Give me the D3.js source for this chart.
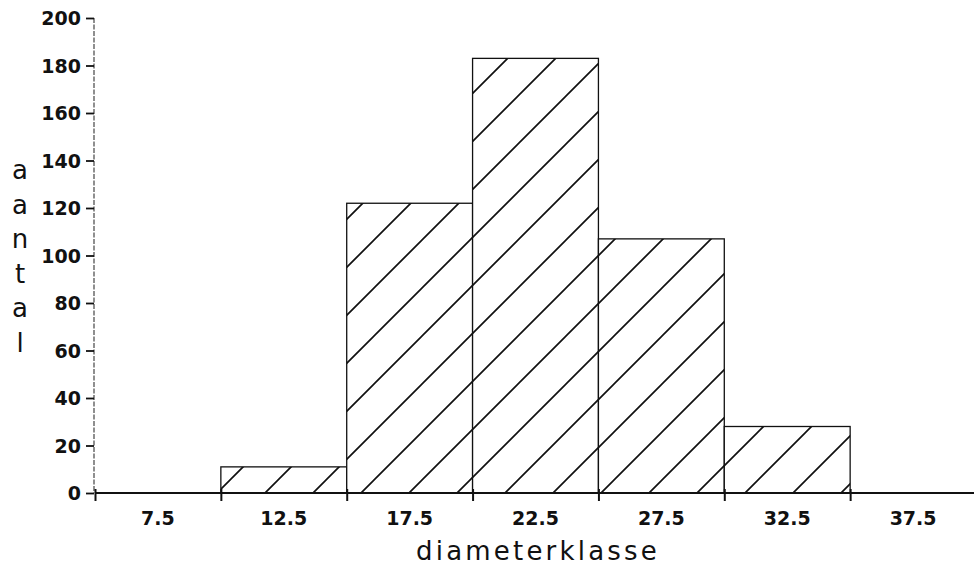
<!DOCTYPE html>
<html>
<head>
<meta charset="utf-8">
<script src="https://cdn.jsdelivr.net/npm/d3@7"></script>
<style>
  html, body { margin: 0; padding: 0; background: #fff; }
  svg { display: block; }
</style>
</head>
<body>
<svg id="chart" width="974" height="570"></svg>
<script>
// ---- data ----
const categories = ["7.5", "12.5", "17.5", "22.5", "27.5", "32.5", "37.5"];
const classLower = [5, 10, 15, 20, 25, 30, 35];
const counts = [0, 11, 122, 183, 107, 28, 0];
const yTicks = [0, 20, 40, 60, 80, 100, 120, 140, 160, 180, 200];
const classWidth = 5;
const yTitle = "aantal";
const xTitle = "diameterklasse";

const svg = d3.select("#chart");
const x = d3.scaleLinear().domain([5, 40]).range([95, 976]);
const y = d3.scaleLinear().domain([0, 200]).range([493, 18]);

// hatch pattern
const hatch = 48;
const defs = svg.append("defs");
const pat = defs.append("pattern")
  .attr("id", "hatch")
  .attr("patternUnits", "userSpaceOnUse")
  .attr("width", hatch).attr("height", hatch)
  .attr("x", 38).attr("y", 0);
pat.append("rect").attr("width", hatch).attr("height", hatch).attr("fill", "#fff");
pat.append("path")
  .attr("d", `M0,${hatch} L${hatch},0 M-${hatch/2},${hatch/2} L${hatch/2},-${hatch/2} M${hatch/2},${hatch*1.5} L${hatch*1.5},${hatch/2}`)
  .attr("stroke", "#111").attr("stroke-width", 1.7).attr("fill", "none");

const data = categories.map((c, i) => ({ c, lo: classLower[i], v: counts[i] }));

// bars
svg.append("g").selectAll("rect")
  .data(data.filter(d => d.v > 0))
  .join("rect")
  .attr("x", d => x(d.lo))
  .attr("y", d => y(d.v))
  .attr("width", d => x(d.lo + classWidth) - x(d.lo))
  .attr("height", d => y(0) - y(d.v))
  .attr("fill", "url(#hatch)")
  .attr("stroke", "#111")
  .attr("stroke-width", 1.3);

const tickFont = "DejaVu Sans, Verdana, sans-serif";

// y axis
const yAxis = d3.axisLeft(y).tickValues(yTicks).tickSize(8).tickPadding(5);
const gy = svg.append("g").attr("transform", `translate(${x(5) - 1},0)`).call(yAxis);
gy.select(".domain").attr("stroke", "#333").attr("stroke-width", 1.1).attr("stroke-dasharray", "5,1.5").attr("d", `M0,${y(200)}V${y(0)}`);
gy.selectAll(".tick line").attr("stroke", "#111").attr("stroke-width", 1.8);
gy.selectAll(".tick text")
  .attr("font-family", tickFont)
  .attr("font-weight", "bold").attr("font-size", 19)
  .attr("fill", "#111").attr("dy", "0.36em");

// x axis
const xAxis = d3.axisBottom(x).tickValues(classLower).tickSize(8).tickFormat("");
const gx = svg.append("g").attr("transform", `translate(0,${y(0)})`).call(xAxis);
gx.select(".domain").attr("stroke", "#111").attr("stroke-width", 2.2).attr("d", `M${x(5)},0H${x(40)}`);
gx.selectAll(".tick line").attr("stroke", "#111").attr("stroke-width", 2).attr("y1", -4);

// x tick labels at class midpoints
svg.append("g").selectAll("text")
  .data(data)
  .join("text")
  .attr("x", d => x(d.lo + classWidth / 2))
  .attr("y", y(0) + 32)
  .attr("text-anchor", "middle")
  .attr("font-family", tickFont)
  .attr("font-weight", "bold").attr("font-size", 19)
  .attr("fill", "#111")
  .text(d => d.c);

// x title
svg.append("text")
  .attr("x", 538).attr("y", 560)
  .attr("text-anchor", "middle")
  .attr("font-family", "DejaVu Sans, Verdana, sans-serif")
  .attr("font-size", 26).attr("letter-spacing", 3.2)
  .attr("fill", "#111")
  .text(xTitle);

// y title stacked vertically
svg.append("g").selectAll("text")
  .data(yTitle.split(""))
  .join("text")
  .attr("x", 20)
  .attr("y", (d, i) => 179 + i * 34.5)
  .attr("text-anchor", "middle")
  .attr("font-family", "DejaVu Sans, Verdana, sans-serif")
  .attr("font-size", 26)
  .attr("fill", "#111")
  .text(d => d);
</script>
</body>
</html>
